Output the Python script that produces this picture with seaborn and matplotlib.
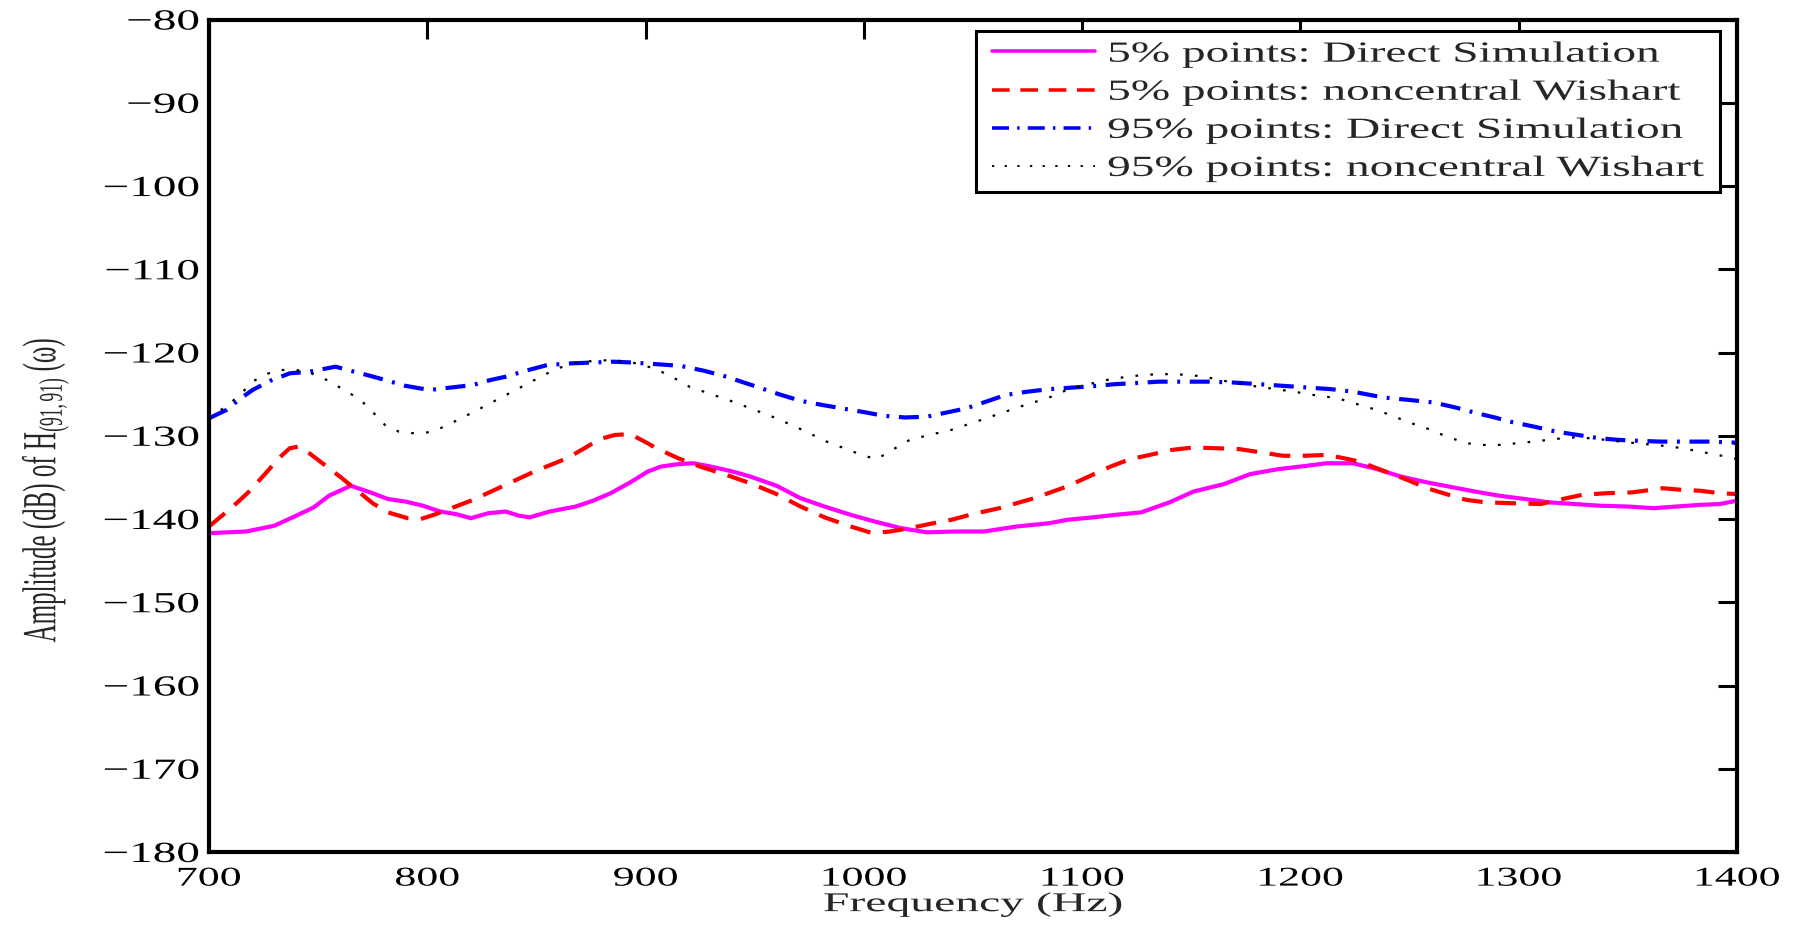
import numpy as np
import pandas as pd
import matplotlib
matplotlib.use("Agg")
import matplotlib.pyplot as plt
from matplotlib.patheffects import AbstractPathEffect
from matplotlib.transforms import Affine2D
import seaborn as sns

# 5% points, direct simulation
mag_f = [700, 717, 730, 740, 748, 755, 765, 775, 782, 790, 798, 806, 813, 820, 828, 836, 842, 847,
         856, 868, 876, 884, 893, 901, 907, 915, 922, 930, 940, 948, 960, 971, 982, 994, 1005, 1017,
         1029, 1042, 1055, 1070, 1085, 1093, 1105, 1115, 1127, 1140, 1151, 1165, 1177, 1190, 1200,
         1212, 1224, 1235, 1246, 1258, 1268, 1280, 1291, 1303, 1314, 1326, 1337, 1350, 1362, 1372,
         1383, 1392, 1400]
mag_v = [-141.7, -141.5, -140.8, -139.6, -138.6, -137.2, -136.0, -136.9, -137.6, -137.9, -138.4,
         -139.1, -139.4, -139.9, -139.3, -139.1, -139.6, -139.8, -139.1, -138.5, -137.8, -136.9,
         -135.6, -134.3, -133.7, -133.4, -133.3, -133.7, -134.3, -134.9, -136.0, -137.5, -138.5,
         -139.5, -140.3, -141.1, -141.6, -141.5, -141.5, -140.9, -140.5, -140.1, -139.8, -139.5,
         -139.2, -138.0, -136.7, -135.8, -134.6, -134.0, -133.7, -133.3, -133.3, -134.0, -134.9,
         -135.6, -136.1, -136.7, -137.2, -137.6, -138.0, -138.2, -138.4, -138.5, -138.7, -138.5,
         -138.3, -138.2, -137.8]

# 5% points, noncentral Wishart
red_f = [700, 711, 718, 726, 732, 737, 741, 746, 753, 760, 768, 775, 782, 791, 797, 803, 812, 821,
         835, 849, 864, 872, 879, 886, 893, 901, 905, 915, 925, 937, 948, 960, 971, 982, 994, 1004,
         1012, 1021, 1030, 1040, 1050, 1062, 1078, 1093, 1103, 1113, 1122, 1131, 1141, 1151, 1162,
         1172, 1182, 1192, 1202, 1212, 1220, 1227, 1238, 1249, 1258, 1268, 1276, 1285, 1297, 1310,
         1320, 1329, 1340, 1352, 1366, 1375, 1383, 1392, 1400]
red_v = [-140.9, -138.5, -136.8, -134.5, -132.7, -131.5, -131.3, -132.1, -133.5, -134.9, -136.6,
         -138.1, -139.2, -139.9, -140.0, -139.5, -138.6, -137.7, -136.0, -134.3, -132.7, -131.5,
         -130.4, -129.9, -129.8, -130.9, -131.5, -132.7, -133.7, -134.7, -135.7, -137.0, -138.5,
         -139.8, -140.9, -141.7, -141.5, -141.1, -140.6, -140.1, -139.4, -138.7, -137.5, -136.1,
         -134.9, -133.7, -132.8, -132.3, -131.7, -131.4, -131.5, -131.6, -132.0, -132.4, -132.4,
         -132.3, -132.7, -133.1, -134.2, -135.3, -136.3, -137.1, -137.7, -138.0, -138.1, -138.2,
         -137.6, -137.1, -136.9, -136.8, -136.3, -136.5, -136.6, -136.9, -137.0]

# 95% points, direct simulation
blu_f = [700, 708, 714, 720, 728, 737, 746, 752, 758, 765, 771, 778, 790, 801, 811, 821, 829, 836,
         845, 855, 866, 876, 885, 894, 905, 916, 927, 937, 945, 952, 961, 971, 981, 992, 1001, 1009,
         1019, 1029, 1038, 1047, 1056, 1065, 1075, 1085, 1096, 1107, 1115, 1123, 1135, 1146, 1158,
         1169, 1181, 1192, 1203, 1214, 1224, 1238, 1250, 1261, 1271, 1281, 1289, 1296, 1307, 1317,
         1327, 1337, 1346, 1354, 1365, 1375, 1387, 1398, 1400]
blu_v = [-127.9, -126.9, -125.6, -124.5, -123.4, -122.5, -122.3, -122.0, -121.7, -122.2, -122.6,
         -123.1, -124.0, -124.5, -124.2, -123.9, -123.3, -122.9, -122.2, -121.5, -121.3, -121.2,
         -121.1, -121.2, -121.4, -121.6, -122.2, -122.9, -123.6, -124.2, -125.0, -125.8, -126.3,
         -126.8, -127.2, -127.6, -127.8, -127.7, -127.2, -126.7, -125.9, -125.1, -124.7, -124.4,
         -124.2, -124.0, -123.8, -123.7, -123.5, -123.5, -123.5, -123.6, -123.8, -124.0, -124.2,
         -124.4, -124.7, -125.4, -125.7, -126.0, -126.6, -127.3, -127.8, -128.3, -128.9, -129.5,
         -129.9, -130.3, -130.5, -130.6, -130.7, -130.7, -130.7, -130.8, -130.9]

# 95% points, noncentral Wishart
blk_f = [700, 706, 711, 716, 720, 726, 733, 740, 746, 754, 762, 767, 772, 777, 781, 787, 794, 800,
         806, 814, 823, 831, 839, 847, 855, 861, 867, 876, 885, 894, 904, 912, 920, 930, 940, 950,
         960, 971, 983, 992, 1000, 1006, 1013, 1021, 1030, 1040, 1048, 1056, 1066, 1075, 1084, 1093,
         1103, 1113, 1121, 1128, 1135, 1142, 1149, 1156, 1165, 1175, 1186, 1197, 1206, 1217, 1226,
         1235, 1244, 1253, 1260, 1266, 1276, 1284, 1291, 1299, 1307, 1316, 1325, 1333, 1340, 1350,
         1362, 1370, 1377, 1387, 1397, 1400]
blk_v = [-128.0, -126.8, -125.8, -124.6, -123.5, -122.6, -122.1, -122.1, -122.4, -123.3, -124.5,
         -125.3, -126.3, -127.7, -128.8, -129.5, -129.7, -129.6, -129.1, -128.1, -126.9, -125.8,
         -124.7, -123.6, -122.5, -121.8, -121.3, -121.0, -120.9, -121.2, -121.9, -122.9, -124.1,
         -125.0, -125.9, -126.9, -127.9, -129.2, -130.7, -131.6, -132.4, -132.8, -131.7, -130.5,
         -129.9, -129.3, -128.6, -127.9, -127.0, -126.2, -125.5, -124.5, -123.8, -123.2, -122.9,
         -122.7, -122.6, -122.6, -122.7, -122.9, -123.4, -123.9, -124.3, -124.7, -125.1, -125.5,
         -126.2, -126.9, -127.8, -128.7, -129.3, -130.0, -130.9, -131.1, -131.1, -130.9, -130.7,
         -130.4, -130.2, -130.3, -130.5, -130.8, -131.1, -131.3, -131.6, -132.1, -132.6, -132.8]

labels = ["5% points: Direct Simulation", "5% points: noncentral Wishart",
          "95% points: Direct Simulation", "95% points: noncentral Wishart"]
x_ticks = [700, 800, 900, 1000, 1100, 1200, 1300, 1400]
y_ticks = [-180, -170, -160, -150, -140, -130, -120, -110, -100, -90, -80]


class WideText(AbstractPathEffect):
    """Draw an artist widened horizontally about a reference x position."""

    def __init__(self, sx, mode="center", xref=None):
        super().__init__()
        self.sx = sx
        self.mode = mode
        self.xref = xref

    def draw_path(self, renderer, gc, tpath, affine, rgbFace=None):
        if self.xref is not None:
            x0 = self.xref()
        else:
            ext = tpath.get_extents(affine)
            x0 = {"left": ext.x0, "right": ext.x1}.get(self.mode, 0.5 * (ext.x0 + ext.x1))
        t = affine + Affine2D().translate(-x0, 0).scale(self.sx, 1).translate(x0, 0)
        renderer.draw_path(gc, tpath, t, rgbFace)


sns.set_theme(style="white")
plt.rcParams["font.family"] = ["Liberation Serif", "DejaVu Serif"]
plt.rcParams["mathtext.fontset"] = "custom"
plt.rcParams["mathtext.rm"] = "Liberation Serif"
plt.rcParams["mathtext.it"] = "Liberation Serif:italic"

fig = plt.figure(figsize=(17.98, 9.26), dpi=100)
ax = fig.add_axes([0.1162, 0.0799, 0.8499, 0.8990])

styles = [
    dict(color="#ff00ff", linewidth=3.0, linestyle="-"),
    dict(color="#ff0000", linewidth=3.0, linestyle=(0, (5, 3))),
    dict(color="#0000ff", linewidth=3.0, linestyle=(0, (4.8, 2.3, 0.7, 2.3))),
    dict(color="black", linewidth=1.6, linestyle=(0, (1.2, 5.5))),
]
series = [(mag_f, mag_v), (red_f, red_v), (blu_f, blu_v), (blk_f, blk_v)]

for (f, v), lab, st in zip(series, labels, styles):
    sns.lineplot(x=f, y=v, ax=ax, label=lab, estimator=None, sort=False, **st)

ax.set_xlim(700, 1400)
ax.set_ylim(-180, -80)
ax.set_xticks(x_ticks)
ax.set_yticks(y_ticks)
ax.tick_params(axis="both", direction="in", length=14, width=2.2,
               top=True, right=True, colors="black")
ax.tick_params(axis="x", labelsize=19.5, pad=10.5)
ax.tick_params(axis="y", labelsize=21, pad=7)
for sp in ax.spines.values():
    sp.set_visible(True)
    sp.set_linewidth(3.0)
    sp.set_color("black")

xlab = ax.set_xlabel("Frequency (Hz)", fontsize=19.5)
ax.xaxis.set_label_coords(0.5, -0.048)
ylab = ax.set_ylabel("Amplitude (dB) of H$_{(91,91)}$ (ω)", fontsize=18)
ax.yaxis.set_label_coords(-0.0975, 0.435)

# legend, widened about its right edge
leg_right, leg_top = 0.9889, 0.9862
handles, labs = ax.get_legend_handles_labels()
leg = ax.legend(handles, labs, loc="upper right", bbox_to_anchor=(leg_right, leg_top),
                fontsize=21, frameon=True, fancybox=False, edgecolor="black",
                framealpha=1, handlelength=2.18, handletextpad=0.25, borderpad=0.35,
                labelspacing=0.4, borderaxespad=0)
leg.get_frame().set_linewidth(2.2)
for h in leg.get_lines():
    h.set_linewidth(h.get_linewidth() * 0.85)

stretch = 1.62
right_px = lambda: ax.transAxes.transform((leg_right, 0.0))[0]
leg_fx = WideText(stretch, xref=right_px)
leg.get_frame().set_path_effects([leg_fx])
for h in leg.get_lines():
    h.set_path_effects([leg_fx])
for t in leg.get_texts():
    t.set_path_effects([leg_fx])

fig.canvas.draw()
for t in ax.get_xticklabels():
    t.set_path_effects([WideText(1.62, "center")])
for t in ax.get_yticklabels():
    t.set_path_effects([WideText(1.62, "right")])
xlab.set_path_effects([WideText(1.76, "center")])
ylab.set_path_effects([WideText(1.9, "center")])

fig.savefig("out.png", dpi=100)
